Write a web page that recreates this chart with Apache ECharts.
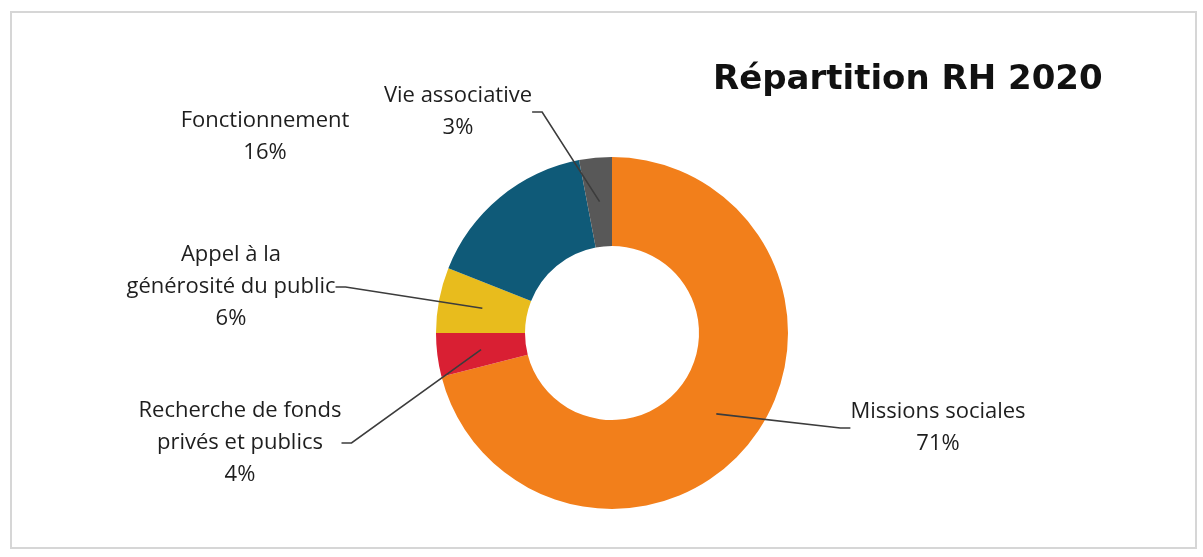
<!DOCTYPE html>
<html>
<head>
<meta charset="utf-8">
<title>Répartition RH 2020</title>
<script src="https://cdn.jsdelivr.net/npm/echarts@6/dist/echarts.min.js"></script>
<style>
  html, body { margin: 0; padding: 0; background: #fff; }
  #chart { width: 1203px; height: 557px; }
</style>
</head>
<body>
<div id="chart"></div>
<script>
// data (percent)
const categories = [
  'Missions sociales',
  'Recherche de fonds\nprivés et publics',
  'Appel à la\ngénérosité du public',
  'Fonctionnement',
  'Vie associative',
];
const values = [71, 4, 6, 16, 3];
const sliceColors = ['#F27F1B', '#D91F33', '#E8BC1D', '#0F5A78', '#585858'];

// where each label block sits (centre of the text block)
const labelCentres = [
  [938, 428],
  [240, 443],
  [231, 287],
  [265, 137],
  [458, 112],
];

const center = [612, 333];
const chart = echarts.init(document.getElementById('chart'));

const option = {
  animation: false,
  title: {
    text: 'Répartition RH 2020',
    left: 708,
    top: 58,
    textStyle: {
      fontFamily: 'DejaVu Sans',
      fontWeight: 'bold',
      fontSize: 34,
      color: '#111',
    },
  },
  graphic: [{
    type: 'rect',
    shape: { x: 11, y: 12, width: 1185, height: 536 },
    style: { fill: 'none', stroke: '#d6d6d6', lineWidth: 2 },
    silent: true,
  }],
  series: [
    {
      // the visible ring
      type: 'pie',
      center: center,
      radius: [87, 176],
      startAngle: 90,
      clockwise: true,
      silent: true,
      label: { show: false },
      labelLine: { show: false },
      data: categories.map((name, i) => ({
        name: name,
        value: values[i],
        itemStyle: { color: sliceColors[i] },
      })),
    },
    {
      // transparent ring on top, its outer edge is where the leader lines start
      type: 'pie',
      z: 5,
      center: center,
      radius: [87, 132],
      startAngle: 90,
      clockwise: true,
      silent: true,
      avoidLabelOverlap: false,
      itemStyle: { color: 'rgba(0,0,0,0)' },
      label: {
        show: true,
        formatter: '{b}\n{c}%',
        fontFamily: 'Open Sans',
        fontSize: 22,
        lineHeight: 32,
        color: '#1e1e1e',
        align: 'center',
      },
      labelLine: {
        show: true,
        length: 10,
        length2: 10,
        lineStyle: { color: '#3c3c3c', width: 1.6 },
      },
      labelLayout: function (params) {
        const p = labelCentres[params.dataIndex];
        return { x: p[0], y: p[1], align: 'center', verticalAlign: 'middle' };
      },
      data: categories.map((name, i) => ({
        name: name,
        value: values[i],
        labelLine: { show: name !== 'Fonctionnement' },
      })),
    },
  ],
};

chart.setOption(option);
</script>
</body>
</html>
